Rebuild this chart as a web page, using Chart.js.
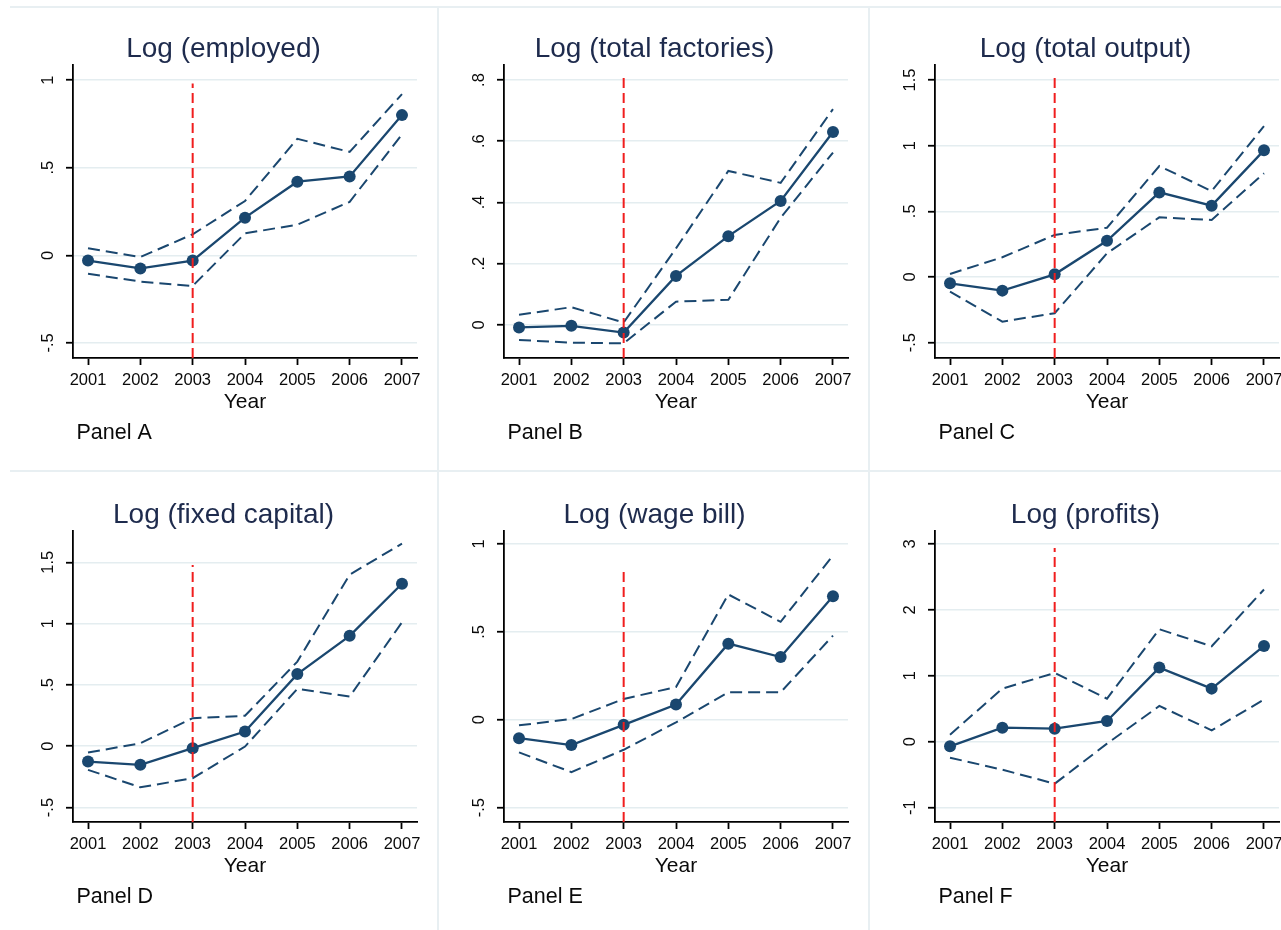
<!DOCTYPE html>
<html>
<head>
<meta charset="utf-8">
<script src="https://cdn.jsdelivr.net/npm/chart.js@4.4.1/dist/chart.umd.min.js"></script>
<style>
  html, body { margin: 0; padding: 0; background: #fff; }
  body { width: 1281px; height: 930px; overflow: hidden; position: relative; }
  .sep { position: absolute; background: #e8eff2; }
  canvas { position: absolute; }
</style>
</head>
<body>
<div class="sep" style="left:10px; top:6px; width:1300px; height:2px;"></div>
<div class="sep" style="left:10px; top:470px; width:1300px; height:2px;"></div>
<div class="sep" style="left:437px; top:6px; width:2px; height:930px;"></div>
<div class="sep" style="left:868px; top:6px; width:2px; height:930px;"></div>

<canvas id="panelA" width="431" height="464" style="left:8px; top:7px;"></canvas>
<canvas id="panelB" width="431" height="464" style="left:439px; top:7px;"></canvas>
<canvas id="panelC" width="431" height="464" style="left:870px; top:7px;"></canvas>
<canvas id="panelD" width="431" height="464" style="left:8px; top:471px;"></canvas>
<canvas id="panelE" width="431" height="464" style="left:439px; top:471px;"></canvas>
<canvas id="panelF" width="431" height="464" style="left:870px; top:471px;"></canvas>

<script>
var years = [2001, 2002, 2003, 2004, 2005, 2006, 2007];
var treatYear = 2003;

// Panel A - employed
var empMid = [-0.03, -0.075, -0.03, 0.215, 0.42, 0.45, 0.80];
var empHi  = [0.04, -0.01, 0.12, 0.31, 0.665, 0.59, 0.92];
var empLo  = [-0.105, -0.15, -0.175, 0.125, 0.175, 0.305, 0.69];
var empTicks = [-0.5, 0, 0.5, 1];

// Panel B - total factories
var facMid = [-0.008, -0.003, -0.025, 0.16, 0.29, 0.405, 0.63];
var facHi  = [0.033, 0.058, 0.008, 0.25, 0.503, 0.464, 0.705];
var facLo  = [-0.049, -0.058, -0.06, 0.076, 0.082, 0.35, 0.563];
var facTicks = [0, 0.2, 0.4, 0.6, 0.8];

// Panel C - total output
var outMid = [-0.048, -0.104, 0.02, 0.276, 0.644, 0.543, 0.964];
var outHi  = [0.023, 0.15, 0.32, 0.375, 0.845, 0.654, 1.149];
var outLo  = [-0.112, -0.34, -0.276, 0.18, 0.454, 0.434, 0.789];
var outTicks = [-0.5, 0, 0.5, 1, 1.5];

// Panel D - fixed capital
var capMid = [-0.125, -0.152, -0.016, 0.12, 0.588, 0.9, 1.325];
var capHi  = [-0.052, 0.024, 0.229, 0.248, 0.69, 1.399, 1.652];
var capLo  = [-0.193, -0.335, -0.261, -0.003, 0.468, 0.405, 1.01];
var capTicks = [-0.5, 0, 0.5, 1, 1.5];

// Panel E - wage bill
var wageMid = [-0.105, -0.144, -0.029, 0.086, 0.433, 0.357, 0.703];
var wageHi  = [-0.032, 0.004, 0.118, 0.186, 0.713, 0.557, 0.935];
var wageLo  = [-0.186, -0.298, -0.171, -0.015, 0.156, 0.156, 0.479];
var wageTicks = [-0.5, 0, 0.5, 1];

// Panel F - profits
var profMid = [-0.071, 0.213, 0.197, 0.314, 1.124, 0.805, 1.453];
var profHi  = [0.106, 0.805, 1.043, 0.653, 1.706, 1.448, 2.309];
var profLo  = [-0.243, -0.425, -0.638, -0.03, 0.542, 0.172, 0.638];
var profTicks = [-1, 0, 1, 2, 3];

var navy = '#1a476f';
var red = '#f01e1e';
var gridCol = '#e4edf0';
var textCol = '#0a0a0a';
var tickFont = '"Liberation Sans", Arial, sans-serif';

function fmtTick(v) {
    return String(v).replace('0.', '.');
}

function toPoints(vals) {
    return years.map(function(yr, i) { return { x: yr, y: vals[i] }; });
}

// keep rotated y labels at the same distance from the axis whatever their width
function yLabelPadding(ticks) {
    var ctx = document.createElement('canvas').getContext('2d');
    ctx.font = '16.5px ' + tickFont;
    var w = 0;
    ticks.forEach(function(t) {
        w = Math.max(w, ctx.measureText(fmtTick(t)).width);
    });
    return 65 - 7 - 40.5 - w / 2;
}

var panelNote = {
    id: 'panelNote',
    afterDraw: function(chart, args, opts) {
        var ctx = chart.ctx;
        ctx.save();
        ctx.font = '21.5px ' + tickFont;
        ctx.fillStyle = textCol;
        ctx.textBaseline = 'alphabetic';
        ctx.textAlign = 'left';
        ctx.fillText(opts.text, chart.chartArea.left + 3.5, chart.chartArea.bottom + 80.5);
        ctx.restore();
    }
};

function makePanel(id, p) {
    var ctx = document.getElementById(id);
    return new Chart(ctx, {
        type: 'scatter',
        data: {
            datasets: [{
                data: [{ x: treatYear, y: p.yMin }, { x: treatYear, y: p.redTop }],
                showLine: true,
                borderColor: red,
                borderWidth: 2,
                borderDash: [10, 5],
                pointRadius: 0
            }, {
                data: toPoints(p.mid),
                showLine: true,
                borderColor: navy,
                borderWidth: 2.3,
                pointRadius: 6,
                pointBackgroundColor: navy,
                pointBorderWidth: 0
            }, {
                data: toPoints(p.hi),
                showLine: true,
                borderColor: navy,
                borderWidth: 2,
                borderDash: [12, 6],
                pointRadius: 0
            }, {
                data: toPoints(p.lo),
                showLine: true,
                borderColor: navy,
                borderWidth: 2,
                borderDash: [12, 6],
                pointRadius: 0
            }]
        },
        options: {
            responsive: false,
            animation: false,
            events: [],
            layout: { padding: { left: 22, right: 22, top: 0, bottom: 0 } },
            scales: {
                x: {
                    type: 'linear',
                    min: 2000.713,
                    max: 2007.287,
                    afterBuildTicks: function(scale) {
                        scale.ticks = years.map(function(v) { return { value: v }; });
                    },
                    afterFit: function(scale) { scale.height = 113; },
                    grid: {
                        drawOnChartArea: false,
                        tickLength: 7,
                        tickColor: '#000',
                        tickWidth: 1.8
                    },
                    border: { color: '#000', width: 1.8 },
                    ticks: {
                        color: textCol,
                        padding: 5.5,
                        maxRotation: 0,
                        font: { family: tickFont, size: 16.5 },
                        callback: function(v) { return String(v); }
                    },
                    title: {
                        display: true,
                        text: 'Year',
                        color: textCol,
                        font: { family: tickFont, size: 21 },
                        padding: { top: 0, bottom: 56.5 }
                    }
                },
                y: {
                    type: 'linear',
                    min: p.yMin,
                    max: p.yMax,
                    afterBuildTicks: function(scale) {
                        scale.ticks = p.ticks.map(function(v) { return { value: v }; });
                    },
                    afterFit: function(scale) { scale.width = 43; },
                    grid: {
                        color: gridCol,
                        lineWidth: 1.5,
                        tickLength: 7,
                        tickColor: '#000',
                        tickWidth: 1.8
                    },
                    border: { color: '#000', width: 1.8 },
                    ticks: {
                        color: textCol,
                        minRotation: 90,
                        maxRotation: 90,
                        crossAlign: 'center',
                        padding: yLabelPadding(p.ticks),
                        font: { family: tickFont, size: 16.5 },
                        callback: function(v) { return fmtTick(v); }
                    }
                }
            },
            plugins: {
                legend: { display: false },
                tooltip: { enabled: false },
                title: {
                    display: true,
                    text: p.title,
                    color: '#1e2b4d',
                    font: { family: tickFont, size: 28, weight: 'normal', lineHeight: 1 },
                    padding: { top: p.titleTop, bottom: p.titleBottom }
                },
                panelNote: { text: p.note }
            }
        },
        plugins: [panelNote]
    });
}

document.addEventListener('DOMContentLoaded', function() {
    makePanel('panelA', { title: 'Log (employed)', note: 'Panel A', mid: empMid, hi: empHi, lo: empLo,
        ticks: empTicks, yMin: -0.586, yMax: 1.086, redTop: 0.98, titleTop: 28, titleBottom: 2 });
    makePanel('panelB', { title: 'Log (total factories)', note: 'Panel B', mid: facMid, hi: facHi, lo: facLo,
        ticks: facTicks, yMin: -0.108, yMax: 0.849, redTop: 0.816, titleTop: 28, titleBottom: 2 });
    makePanel('panelC', { title: 'Log (total output)', note: 'Panel C', mid: outMid, hi: outHi, lo: outLo,
        ticks: outTicks, yMin: -0.617, yMax: 1.614, redTop: 1.538, titleTop: 28, titleBottom: 2 });
    makePanel('panelD', { title: 'Log (fixed capital)', note: 'Panel D', mid: capMid, hi: capHi, lo: capLo,
        ticks: capTicks, yMin: -0.618, yMax: 1.755, redTop: 1.478, titleTop: 30, titleBottom: 2 });
    makePanel('panelE', { title: 'Log (wage bill)', note: 'Panel E', mid: wageMid, hi: wageHi, lo: wageLo,
        ticks: wageTicks, yMin: -0.582, yMax: 1.074, redTop: 0.869, titleTop: 30, titleBottom: 2 });
    makePanel('panelF', { title: 'Log (profits)', note: 'Panel F', mid: profMid, hi: profHi, lo: profLo,
        ticks: profTicks, yMin: -1.219, yMax: 3.197, redTop: 2.94, titleTop: 30, titleBottom: 2 });
});
</script>
</body>
</html>
